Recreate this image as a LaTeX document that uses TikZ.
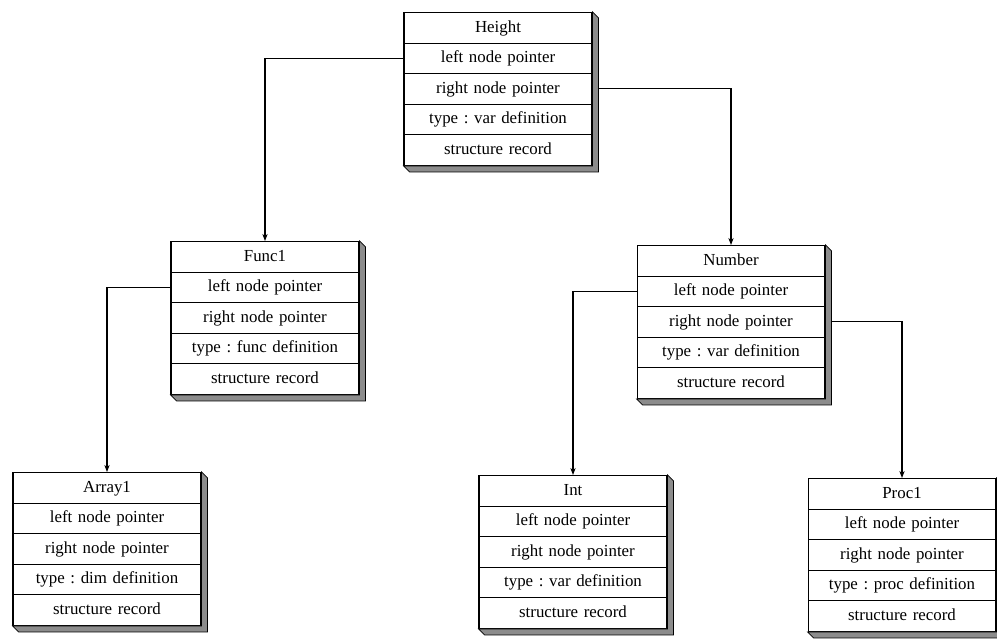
\documentclass[tikz,border=0pt]{standalone}
\usepackage{fontspec}
\setmainfont{Liberation Serif}
\frenchspacing
\usetikzlibrary{calc,shapes.multipart,arrows.meta}
\tikzset{link/.style = {-{Stealth[length=4pt,width=3pt]}, line width=0.6pt}}
\newcommand\extrude[1]{%
  \filldraw[line width=0.4pt, fill=black!45] (#1.north east) -- ++(6,6) -- ($(#1.south east)+(6,6)$)
    -- ($(#1.south west)+(6,6)$) -- (#1.south west) -- (#1.south east) -- cycle;}

\begin{document}
\begin{tikzpicture}[x=0.02cm, y=-0.02cm,
    record/.style={
        rectangle split, rectangle split parts=5, draw, line width=0.6pt,
        fill=white, anchor=north, text width=3.76cm, inner xsep=0pt,
        inner ysep=2.4pt, align=center, font=\fontsize{9.6}{12}\selectfont},
    ]
    \useasboundingbox (0,0) rectangle (997,639);

    % Root
    \node[record] (height) at (498,12) {\strut Height
        \nodepart{two}\strut left node pointer
        \nodepart{three}\strut right node pointer
        \nodepart{four}\strut type : var definition
        \nodepart{five}\strut structure record};

    % Second level
    \node[record] (func) at (265,241) {\strut Func1
        \nodepart{two}\strut left node pointer
        \nodepart{three}\strut right node pointer
        \nodepart{four}\strut type : func definition
        \nodepart{five}\strut structure record};
    \node[record] (number) at (731,245) {\strut Number
        \nodepart{two}\strut left node pointer
        \nodepart{three}\strut right node pointer
        \nodepart{four}\strut type : var definition
        \nodepart{five}\strut structure record};

    % Leaves
    \node[record] (array) at (107,472) {\strut Array1
        \nodepart{two}\strut left node pointer
        \nodepart{three}\strut right node pointer
        \nodepart{four}\strut type : dim definition
        \nodepart{five}\strut structure record};
    \node[record] (int) at (573,475) {\strut Int
        \nodepart{two}\strut left node pointer
        \nodepart{three}\strut right node pointer
        \nodepart{four}\strut type : var definition
        \nodepart{five}\strut structure record};
    \node[record] (proc) at (902,478) {\strut Proc1
        \nodepart{two}\strut left node pointer
        \nodepart{three}\strut right node pointer
        \nodepart{four}\strut type : proc definition
        \nodepart{five}\strut structure record};

    % 3D edges
    \foreach \n in {height,func,number,array,int,proc} {\extrude{\n}}

    % Pointers
    \draw[link] (height.two west) -| (func.north);
    \draw[link] ($(height.three east)+(6,0)$) -| (number.north);
    \draw[link] (func.two west) -| (array.north);
    \draw[link] (number.two west) -| (int.north);
    \draw[link] ($(number.three east)+(6,0)$) -| (proc.north);

\end{tikzpicture}
\end{document}
